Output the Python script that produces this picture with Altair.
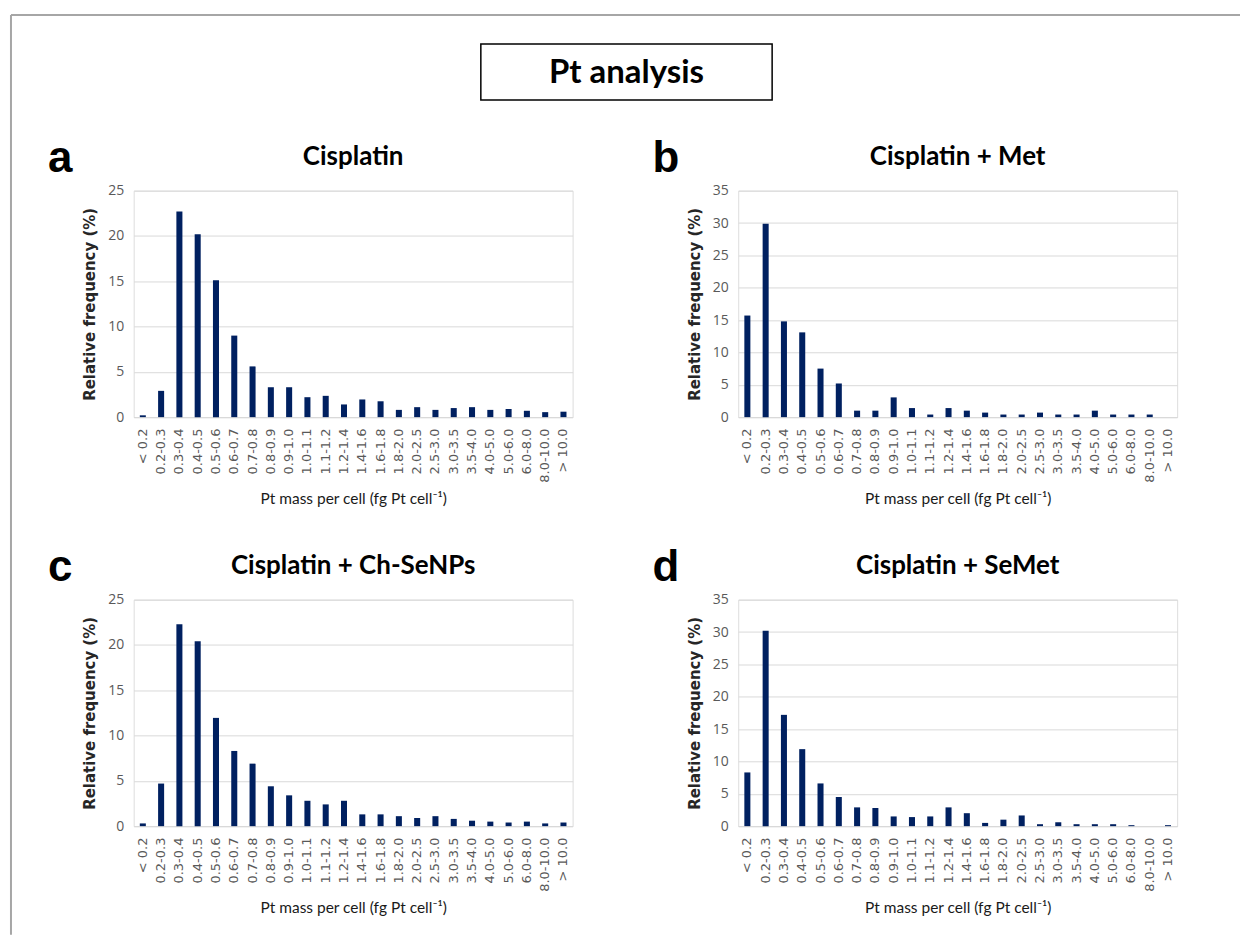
import altair as alt
import pandas as pd

categories = ["< 0.2", "0.2-0.3", "0.3-0.4", "0.4-0.5", "0.5-0.6", "0.6-0.7", "0.7-0.8",
              "0.8-0.9", "0.9-1.0", "1.0-1.1", "1.1-1.2", "1.2-1.4", "1.4-1.6", "1.6-1.8",
              "1.8-2.0", "2.0-2.5", "2.5-3.0", "3.0-3.5", "3.5-4.0", "4.0-5.0", "5.0-6.0",
              "6.0-8.0", "8.0-10.0", "> 10.0"]

cisplatin = [0.2, 2.9, 22.7, 20.2, 15.1, 9.0, 5.6, 3.3, 3.3, 2.2, 2.35, 1.4, 1.95, 1.75,
             0.8, 1.1, 0.8, 1.0, 1.1, 0.8, 0.9, 0.7, 0.55, 0.6]
cisplatin_met = [15.7, 29.9, 14.8, 13.1, 7.5, 5.2, 1.0, 1.0, 3.05, 1.4, 0.4, 1.4, 1.0, 0.7,
                 0.4, 0.4, 0.7, 0.4, 0.4, 1.0, 0.4, 0.4, 0.4, 0.0]
cisplatin_chsenps = [0.3, 4.7, 22.3, 20.4, 11.95, 8.3, 6.9, 4.4, 3.4, 2.8, 2.4, 2.8, 1.3, 1.3,
                     1.1, 0.9, 1.1, 0.8, 0.6, 0.5, 0.4, 0.5, 0.3, 0.4]
cisplatin_semet = [8.3, 30.2, 17.2, 11.9, 6.6, 4.5, 2.9, 2.8, 1.5, 1.4, 1.5, 2.9, 2.0, 0.5,
                   1.0, 1.65, 0.3, 0.6, 0.3, 0.3, 0.3, 0.15, 0.0, 0.15]

panel_titles = ["Cisplatin", "Cisplatin + Met", "Cisplatin + Ch-SeNPs", "Cisplatin + SeMet"]
panel_letters = ["a", "b", "c", "d"]
y_max = [25, 35, 25, 35]
main_title = "Pt analysis"

W, H = 440, 227
BAR = "#002060"
TFONT = "Lato"


def panel(vals, title, letter, ymax, extra=None):
    df = pd.DataFrame({"bin": categories, "freq": vals})
    bars = alt.Chart(df).mark_bar(color=BAR).encode(
        x=alt.X("bin:N", sort=categories,
                scale=alt.Scale(paddingInner=0.67, paddingOuter=0.335),
                axis=alt.Axis(labelAngle=-90, ticks=False, domain=True, domainColor="#d9d9d9",
                              labelFont="DejaVu Sans", labelFontSize=13, labelColor="#595959",
                              labelPadding=11,
                              title="Pt mass per cell (fg Pt cell\u207b\u00b9)",
                              titleFont=TFONT, titleFontSize=15.5, titleFontWeight="normal",
                              titleColor="#1a1a1a", titlePadding=9)),
        y=alt.Y("freq:Q", scale=alt.Scale(domain=[0, ymax], nice=False),
                axis=alt.Axis(values=list(range(0, ymax + 1, 5)), grid=True, gridColor="#d9d9d9",
                              domain=False, ticks=False, labelPadding=10,
                              labelFont="Open Sans", labelFontSize=14, labelColor="#595959",
                              title="Relative frequency (%)", titleFont="DejaVu Sans",
                              titleFontWeight="bold", titleFontSize=15, titleColor="#262626",
                              titlePadding=10)),
    )
    lab = pd.DataFrame({"t": [letter], "title": [title]})
    letter_mark = alt.Chart(lab).mark_text(
        font="Liberation Sans", fontWeight="bold", fontSize=44, align="left",
        baseline="alphabetic", color="black"
    ).encode(text="t:N", x=alt.value(-86), y=alt.value(-19))
    title_mark = alt.Chart(lab).mark_text(
        font=TFONT, fontWeight="bold", fontSize=26, align="center",
        baseline="alphabetic", color="black"
    ).encode(text="title:N", x=alt.value(W / 2), y=alt.value(-26))
    layers = [bars, letter_mark, title_mark]
    if extra:
        layers += extra
    return alt.layer(*layers).properties(width=W, height=H)


# decorations placed relative to panel a's plot origin
one = pd.DataFrame({"t": [main_title]})
frame_top = alt.Chart(one).mark_rule(color="#a6a6a6", strokeWidth=2).encode(
    x=alt.value(-123), x2=alt.value(1109), y=alt.value(-176))
frame_left = alt.Chart(one).mark_rule(color="#a6a6a6", strokeWidth=2).encode(
    x=alt.value(-123), y=alt.value(-176), y2=alt.value(746))
box = alt.Chart(one).mark_rect(fill="white", stroke="black", strokeWidth=1.5).encode(
    x=alt.value(348), x2=alt.value(640), y=alt.value(-147), y2=alt.value(-91))
box_text = alt.Chart(one).mark_text(
    font=TFONT, fontWeight="bold", fontSize=33, align="center", baseline="middle", color="black"
).encode(text="t:N", x=alt.value(494), y=alt.value(-118))

series = [cisplatin, cisplatin_met, cisplatin_chsenps, cisplatin_semet]
charts = []
for i in range(4):
    extra = [frame_top, frame_left, box, box_text] if i == 0 else None
    charts.append(panel(series[i], panel_titles[i], panel_letters[i], y_max[i], extra))

chart = alt.concat(
    *charts, columns=2,
    spacing=alt.RowColnumber(row=183, column=166),
    bounds="flush",
).properties(
    padding=alt.Padding(left=9, top=12, right=0, bottom=0)
).configure_view(strokeWidth=0).configure(background="white")

chart.save("out.html", embed_options={"renderer": "svg", "actions": False})
